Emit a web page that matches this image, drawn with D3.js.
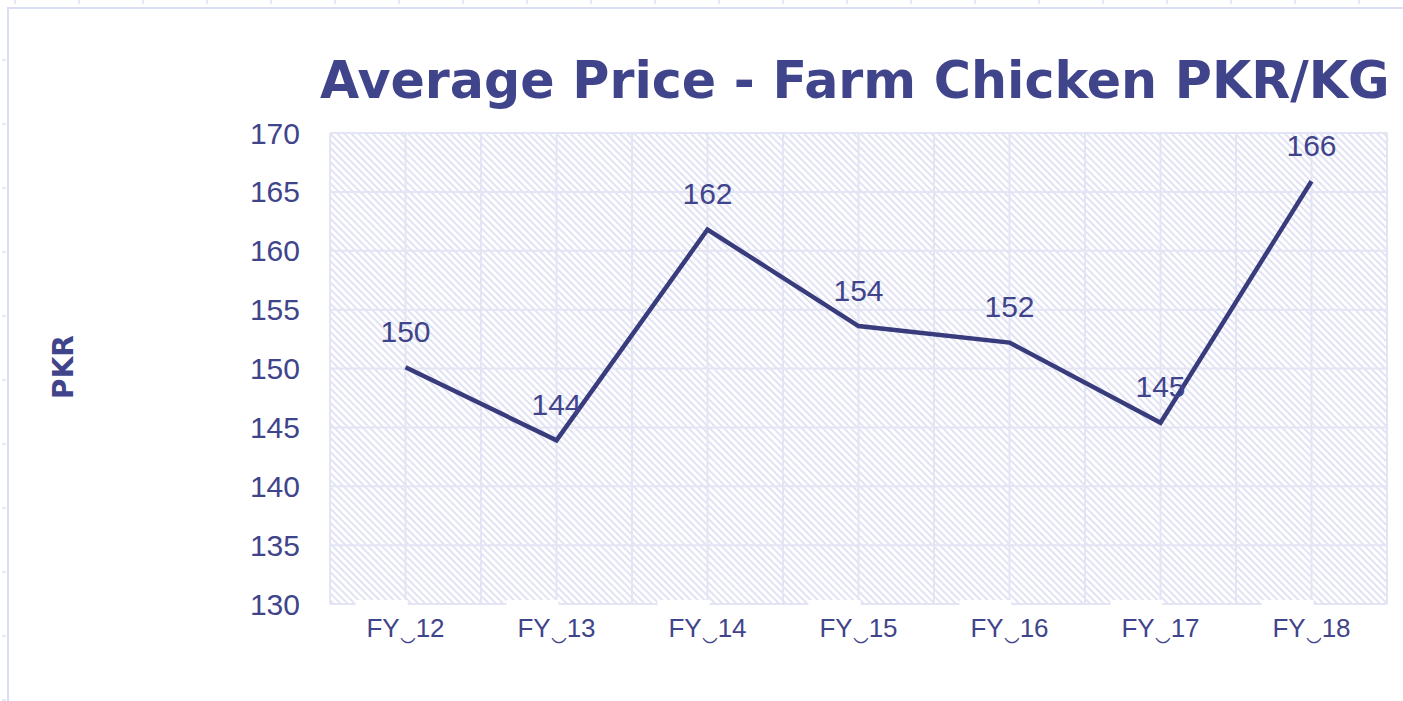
<!DOCTYPE html>
<html>
<head>
<meta charset="utf-8">
<script src="https://cdn.jsdelivr.net/npm/d3@7"></script>
<style>
  body { margin: 0; background: #fff; }
  svg { display: block; }
</style>
</head>
<body>
<svg id="chart"></svg>
<script>
const categories = ['FY‿12', 'FY‿13', 'FY‿14', 'FY‿15', 'FY‿16', 'FY‿17', 'FY‿18']
const prices = [150.1, 143.9, 161.8, 153.6, 152.2, 145.4, 165.9]
const priceLabels = ['150', '144', '162', '154', '152', '145', '166']
const yTicks = [130, 135, 140, 145, 150, 155, 160, 165, 170]

const W = 1403, H = 701
const plot = { left: 330, right: 1387, top: 133, bottom: 604 }
const ink = '#40448a'
const lineColor = '#383b7c'
const gridColor = '#e3e5f4'

const svg = d3.select('#chart').attr('width', W).attr('height', H)

// hatch fill for the plot area
const defs = svg.append('defs')
const pat = defs.append('pattern')
  .attr('id', 'hatch')
  .attr('patternUnits', 'userSpaceOnUse')
  .attr('width', 5).attr('height', 5)
  .attr('patternTransform', 'rotate(45)')
pat.append('rect').attr('width', 5).attr('height', 5).attr('fill', '#fff')
pat.append('rect').attr('width', 5).attr('height', 2).attr('fill', '#e1e3f4')

// slide frame with little marks
svg.append('path')
  .attr('d', `M8,${H} V8 H${W}`)
  .attr('fill', 'none').attr('stroke', '#dadef4').attr('stroke-width', 2)
svg.selectAll('.topmark').data(d3.range(15, W, 64)).join('line')
  .attr('x1', d => d).attr('x2', d => d).attr('y1', 0).attr('y2', 4)
  .attr('stroke', '#dde0f4').attr('stroke-width', 1.5)
svg.selectAll('.leftmark').data(d3.range(60, H, 64)).join('line')
  .attr('x1', 2).attr('x2', 6).attr('y1', d => d).attr('y2', d => d)
  .attr('stroke', '#dde0f4').attr('stroke-width', 1.5)

const x = d3.scaleBand().domain(categories).range([plot.left, plot.right])
const bw = x.bandwidth()
const cx = d => x(d) + bw / 2
const y = d3.scaleLinear().domain([130, 170]).range([plot.bottom, plot.top])

svg.append('rect')
  .attr('x', plot.left).attr('y', plot.top)
  .attr('width', plot.right - plot.left).attr('height', plot.bottom - plot.top)
  .attr('fill', 'url(#hatch)')

// grid
const g = svg.append('g')
g.selectAll('.hgrid').data(yTicks).join('line')
  .attr('x1', plot.left).attr('x2', plot.right)
  .attr('y1', d => y(d)).attr('y2', d => y(d))
  .attr('stroke', gridColor).attr('stroke-width', 2)
const vLines = categories.flatMap(c => [x(c), cx(c)]).concat([plot.right])
g.selectAll('.vgrid').data(vLines).join('line')
  .attr('x1', d => d).attr('x2', d => d)
  .attr('y1', plot.top).attr('y2', plot.bottom)
  .attr('stroke', gridColor).attr('stroke-width', 2)

// white gaps along the bottom edge
g.selectAll('.gap').data(categories).join('rect')
  .attr('x', d => cx(d) - 50).attr('y', plot.bottom - 4)
  .attr('width', 52).attr('height', 8).attr('fill', '#fff')

// y axis labels
svg.selectAll('.ytick').data(yTicks).join('text')
  .attr('x', 300).attr('y', d => y(d))
  .attr('dy', '0.35em')
  .attr('text-anchor', 'end')
  .attr('font-family', 'Liberation Sans, Arial, sans-serif')
  .attr('font-size', 30).attr('fill', ink)
  .text(d => d)

// x axis labels
svg.selectAll('.xtick').data(categories).join('text')
  .attr('x', d => cx(d)).attr('y', 628)
  .attr('dy', '0.35em')
  .attr('text-anchor', 'middle')
  .attr('font-family', 'Liberation Sans, Arial, sans-serif')
  .attr('font-size', 26).attr('fill', ink)
  .text(d => d)

// line
const line = d3.line().x((d, i) => cx(categories[i])).y(d => y(d))
svg.append('path')
  .datum(prices)
  .attr('d', line)
  .attr('fill', 'none')
  .attr('stroke', lineColor).attr('stroke-width', 4.5)
  .attr('stroke-linejoin', 'miter')

// value labels
svg.selectAll('.vlabel').data(prices).join('text')
  .attr('x', (d, i) => cx(categories[i]))
  .attr('y', d => y(d) - 36)
  .attr('dy', '0.35em')
  .attr('text-anchor', 'middle')
  .attr('font-family', 'Liberation Sans, Arial, sans-serif')
  .attr('font-size', 30).attr('fill', ink)
  .text((d, i) => priceLabels[i])

// title - sized so it just fits the page width
const title = svg.append('text')
  .attr('x', 320).attr('y', 98)
  .attr('font-family', 'DejaVu Sans, Verdana, sans-serif')
  .attr('font-weight', 'bold')
  .attr('font-size', 54).attr('fill', ink)
  .text('Average Price - Farm Chicken PKR/KG')
const tw = title.node().getComputedTextLength()
title.attr('font-size', Math.min(54, 54 * 1070 / tw))

// y axis title
svg.append('text')
  .attr('transform', 'translate(73,367) rotate(-90)')
  .attr('text-anchor', 'middle')
  .attr('font-family', 'DejaVu Sans, Verdana, sans-serif')
  .attr('font-weight', 'bold')
  .attr('font-size', 28).attr('fill', ink)
  .text('PKR')
</script>
</body>
</html>
